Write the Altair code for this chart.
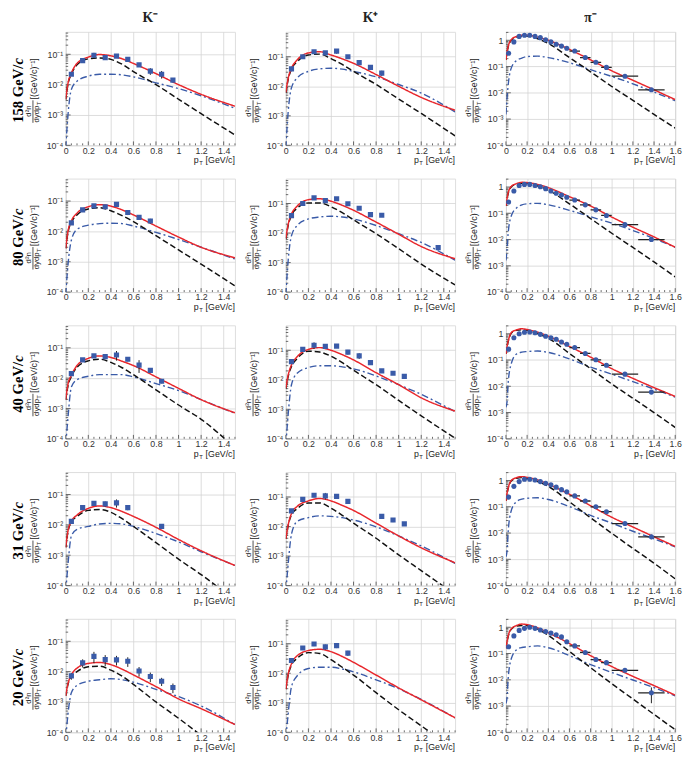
import altair as alt
import pandas as pd

# ---------------- data ----------------
KPT = [0.0, 0.02, 0.05, 0.1, 0.2, 0.3, 0.4, 0.5, 0.6, 0.8, 1.0, 1.2, 1.5]
PIPT = [0.0, 0.01, 0.02, 0.05, 0.1, 0.15, 0.2, 0.3, 0.4, 0.6, 0.8, 1.0, 1.2, 1.4, 1.6]
PI_DPT = [0.025, 0.075, 0.125, 0.175, 0.225, 0.275, 0.325, 0.375, 0.425, 0.475,
          0.525, 0.575, 0.65, 0.75, 0.85, 0.95, 1.125, 1.375]
PI_XERR = [0, 0, 0, 0, 0, 0, 0, 0, 0, 0, 0, 0, 0.05, 0.05, 0.05, 0.05, 0.125, 0.125]

ROW_LABELS = ["158", "80", "40", "31", "20"]
COL_TITLES = ["K\u207b", "K\u207a", "\u03c0\u207b"]

# ---- 158 GeV/c ----
KM158_RED = [3.3e-3, 1.1e-2, 2.4e-2, 5.0e-2, 8.1e-2, 9.8e-2, 8.9e-2, 7.1e-2, 5.0e-2, 2.3e-2, 1.0e-2, 4.8e-3, 1.95e-3]
KM158_BLK = [3.2e-3, 1.05e-2, 2.2e-2, 4.5e-2, 7.1e-2, 7.6e-2, 6.8e-2, 4.7e-2, 2.7e-2, 1.0e-2, 3.3e-3, 1.1e-3, 2.2e-4]
KM158_BLU = [8e-5, 1.0e-3, 6.9e-3, 1.3e-2, 1.9e-2, 2.2e-2, 2.2e-2, 2.1e-2, 1.8e-2, 1.15e-2, 7.4e-3, 4.3e-3, 1.66e-3]
KM158_DPT = [0.05, 0.15, 0.25, 0.35, 0.45, 0.55, 0.65, 0.75, 0.85, 0.95]
KM158_VAL = [2.2e-2, 6.2e-2, 9.3e-2, 7.8e-2, 8.7e-2, 6.8e-2, 4.5e-2, 2.8e-2, 2.2e-2, 1.4e-2]
KM158_ERR = [0.12, 0.1, 0.2, 0.12, 0.12, 0.12, 0.15, 0.25, 0.28, 0.15]

KP158_RED = [6.2e-3, 1.8e-2, 4.1e-2, 7.8e-2, 0.135, 0.148, 0.115, 8.5e-2, 6.0e-2, 2.5e-2, 1.0e-2, 4.2e-3, 1.55e-3]
KP158_BLK = [6.0e-3, 1.66e-2, 3.8e-2, 6.8e-2, 0.115, 0.123, 8.7e-2, 5.5e-2, 3.2e-2, 1.15e-2, 3.7e-3, 1.2e-3, 2.1e-4]
KP158_BLU = [8e-5, 1.26e-3, 8.9e-3, 1.9e-2, 3.2e-2, 3.9e-2, 4.1e-2, 3.8e-2, 3.2e-2, 2.1e-2, 1.15e-2, 5.9e-3, 1.35e-3]
KP158_DPT = [0.05, 0.15, 0.25, 0.35, 0.45, 0.55, 0.65, 0.75, 0.85]
KP158_VAL = [3.9e-2, 0.10, 0.148, 0.135, 0.155, 0.10, 6.3e-2, 4.4e-2, 2.8e-2]
KP158_ERR = [0.12, 0.12, 0.15, 0.12, 0.18, 0.1, 0.12, 0.18, 0.2]

PI158_RED = [0.18, 0.35, 0.56, 1.05, 1.41, 1.55, 1.55, 1.32, 1.0, 0.45, 0.18, 6.9e-2, 3.0e-2, 1.3e-2, 5.5e-3]
PI158_BLK = [0.18, 0.35, 0.54, 1.0, 1.32, 1.45, 1.45, 1.15, 0.76, 0.22, 6.3e-2, 1.74e-2, 5.2e-3, 1.5e-3, 4.5e-4]
PI158_BLU = [1.5e-3, 6.0e-3, 1.8e-2, 8.7e-2, 0.17, 0.21, 0.24, 0.25, 0.22, 0.14, 7.6e-2, 4.2e-2, 2.2e-2, 1.07e-2, 5.0e-3]
PI158_VAL = [0.32, 0.87, 1.41, 1.55, 1.55, 1.41, 1.26, 1.05, 0.87, 0.71, 0.60, 0.50, 0.39, 0.22, 0.145, 9.3e-2, 4.3e-2, 1.3e-2]
PI158_ERR = [0.05] * 16 + [0.1, 0.12]

# ---- 80 GeV/c ----
KM80_RED = [2.75e-3, 1.0e-2, 2.2e-2, 4.0e-2, 6.5e-2, 7.6e-2, 6.8e-2, 5.1e-2, 3.5e-2, 1.5e-2, 6.5e-3, 3.0e-3, 1.35e-3]
KM80_BLK = [2.75e-3, 9.3e-3, 2.0e-2, 3.5e-2, 5.5e-2, 6.0e-2, 4.8e-2, 3.3e-2, 2.1e-2, 7.2e-3, 2.45e-3, 8.3e-4, 1.6e-4]
KM80_BLU = [8e-5, 7.9e-4, 5.1e-3, 1.17e-2, 1.6e-2, 1.8e-2, 1.86e-2, 1.8e-2, 1.5e-2, 9.3e-3, 5.4e-3, 3.0e-3, 1.23e-3]
KM80_DPT = [0.05, 0.15, 0.25, 0.35, 0.45, 0.55, 0.65, 0.75]
KM80_VAL = [1.9e-2, 5.1e-2, 6.9e-2, 6.5e-2, 7.8e-2, 4.2e-2, 2.9e-2, 2.2e-2]
KM80_ERR = [0.12, 0.12, 0.12, 0.12, 0.18, 0.18, 0.15, 0.18]

KP80_RED = [6.6e-3, 1.9e-2, 4.4e-2, 8.1e-2, 0.135, 0.145, 0.12, 8.7e-2, 5.9e-2, 2.35e-2, 9.1e-3, 3.5e-3, 1.35e-3]
KP80_BLK = [6.3e-3, 1.74e-2, 4.0e-2, 6.9e-2, 0.105, 0.105, 7.8e-2, 4.9e-2, 2.8e-2, 9.5e-3, 2.95e-3, 8.9e-4, 1.74e-4]
KP80_BLU = [8e-5, 1.1e-3, 8.1e-3, 1.8e-2, 3.0e-2, 3.5e-2, 3.7e-2, 3.5e-2, 3.0e-2, 1.8e-2, 9.5e-3, 4.8e-3, 1.2e-3]
KP80_DPT = [0.05, 0.15, 0.25, 0.35, 0.45, 0.55, 0.65, 0.75, 0.85, 1.35]
KP80_VAL = [3.9e-2, 0.10, 0.155, 0.126, 0.145, 9.8e-2, 6.9e-2, 4.2e-2, 4.0e-2, 3.2e-3]
KP80_ERR = [0.1, 0.1, 0.1, 0.1, 0.12, 0.12, 0.12, 0.1, 0.1, 0.15]

PI80_RED = [0.19, 0.36, 0.58, 1.05, 1.35, 1.51, 1.48, 1.26, 0.95, 0.43, 0.19, 7.2e-2, 2.95e-2, 1.26e-2, 5.1e-3]
PI80_BLK = [0.19, 0.35, 0.55, 1.0, 1.29, 1.38, 1.38, 1.1, 0.76, 0.23, 6.3e-2, 1.74e-2, 5.0e-3, 1.4e-3, 3.8e-4]
PI80_BLU = [1.6e-3, 4.0e-3, 1.6e-2, 7.9e-2, 0.16, 0.21, 0.23, 0.24, 0.21, 0.13, 7.4e-2, 4.2e-2, 2.2e-2, 1.1e-2, 5.0e-3]
PI80_VAL = [0.27, 0.71, 1.15, 1.26, 1.26, 1.15, 1.02, 0.87, 0.71, 0.58, 0.50, 0.41, 0.32, 0.21, 0.135, 8.3e-2, 3.7e-2, 1.0e-2]
PI80_ERR = [0.05] * 16 + [0.1, 0.12]

# ---- 40 GeV/c ----
KM40_RED = [1.95e-3, 6.3e-3, 1.23e-2, 2.6e-2, 4.5e-2, 5.4e-2, 4.8e-2, 3.6e-2, 2.6e-2, 1.1e-2, 4.6e-3, 1.95e-3, 7.2e-4]
KM40_BLK = [1.95e-3, 5.6e-3, 1.12e-2, 2.3e-2, 3.7e-2, 4.2e-2, 3.3e-2, 2.2e-2, 1.3e-2, 4.1e-3, 1.3e-3, 4.4e-4, 5e-5]
KM40_BLU = [6e-5, 5.0e-4, 5.1e-3, 8.9e-3, 1.15e-2, 1.3e-2, 1.3e-2, 1.3e-2, 1.1e-2, 6.6e-3, 3.9e-3, 1.95e-3, 6.9e-4]
KM40_DPT = [0.05, 0.15, 0.25, 0.35, 0.45, 0.55, 0.65, 0.75, 0.85]
KM40_VAL = [1.4e-2, 4.0e-2, 5.4e-2, 5.1e-2, 5.8e-2, 4.2e-2, 2.7e-2, 1.8e-2, 7.9e-3]
KM40_ERR = [0.15, 0.1, 0.12, 0.15, 0.35, 0.15, 0.45, 0.12, 0.15]

KP40_RED = [5.2e-3, 1.4e-2, 3.2e-2, 6.0e-2, 0.107, 0.123, 0.10, 7.1e-2, 4.7e-2, 1.74e-2, 6.8e-3, 2.45e-3, 8.7e-4]
KP40_BLK = [5.0e-3, 1.26e-2, 2.8e-2, 5.2e-2, 9.3e-2, 8.7e-2, 6.3e-2, 3.8e-2, 2.1e-2, 6.8e-3, 2.0e-3, 6.0e-4, 1.05e-4]
KP40_BLU = [6e-5, 6.3e-4, 6.8e-3, 1.66e-2, 2.6e-2, 3.0e-2, 3.0e-2, 2.75e-2, 2.35e-2, 1.35e-2, 6.8e-3, 3.2e-3, 8.3e-4]
KP40_DPT = [0.05, 0.15, 0.25, 0.35, 0.45, 0.55, 0.65, 0.75, 0.85, 0.95, 1.05]
KP40_VAL = [4.1e-2, 0.107, 0.148, 0.135, 0.138, 8.7e-2, 6.5e-2, 3.8e-2, 2.0e-2, 1.66e-2, 1.3e-2]
KP40_ERR = [0.12, 0.1, 0.25, 0.15, 0.12, 0.18, 0.22, 0.12, 0.1, 0.12, 0.12]

PI40_RED = [0.17, 0.32, 0.50, 1.1, 1.41, 1.55, 1.45, 1.15, 0.81, 0.33, 0.129, 4.7e-2, 2.0e-2, 8.9e-3, 4.1e-3]
PI40_BLK = [0.17, 0.32, 0.49, 1.05, 1.35, 1.41, 1.35, 1.02, 0.68, 0.178, 4.7e-2, 1.23e-2, 3.5e-3, 1.0e-3, 2.7e-4]
PI40_BLU = [1.6e-3, 2.5e-3, 1.26e-2, 7.2e-2, 0.17, 0.2, 0.21, 0.22, 0.195, 0.11, 5.4e-2, 2.9e-2, 1.5e-2, 7.8e-3, 3.9e-3]
PI40_VAL = [0.26, 0.71, 1.0, 1.15, 1.17, 1.1, 0.95, 0.81, 0.71, 0.62, 0.49, 0.40, 0.30, 0.178, 0.102, 6.3e-2, 2.9e-2, 6.0e-3]
PI40_ERR = [0.05] * 16 + [0.1, 0.15]

# ---- 31 GeV/c ----
KM31_RED = [1.8e-3, 6.3e-3, 1.3e-2, 2.1e-2, 3.5e-2, 4.2e-2, 3.7e-2, 2.75e-2, 1.9e-2, 8.3e-3, 3.3e-3, 1.4e-3, 4.6e-4]
KM31_BLK = [1.8e-3, 6.0e-3, 1.26e-2, 1.9e-2, 3.0e-2, 3.2e-2, 2.6e-2, 1.6e-2, 8.9e-3, 2.6e-3, 7.4e-4, 2.3e-4, 3.2e-5]
KM31_BLU = [6e-5, 5.0e-4, 4.3e-3, 7.1e-3, 8.9e-3, 1.07e-2, 1.12e-2, 1.07e-2, 8.9e-3, 5.2e-3, 2.75e-3, 1.3e-3, 4.6e-4]
KM31_DPT = [0.05, 0.15, 0.25, 0.35, 0.45, 0.55, 0.85]
KM31_VAL = [1.3e-2, 3.7e-2, 5.1e-2, 4.9e-2, 5.3e-2, 3.7e-2, 8.9e-3]
KM31_ERR = [0.12, 0.15, 0.15, 0.2, 0.3, 0.18, 0.15]

KP31_RED = [3.8e-3, 1.1e-2, 2.75e-2, 4.8e-2, 7.4e-2, 8.9e-2, 7.4e-2, 5.2e-2, 3.5e-2, 1.3e-2, 4.8e-3, 1.9e-3, 5.9e-4]
KP31_BLK = [3.8e-3, 1.05e-2, 2.5e-2, 4.0e-2, 6.3e-2, 6.3e-2, 4.2e-2, 2.4e-2, 1.3e-2, 4.0e-3, 1.1e-3, 3.2e-4, 5e-5]
KP31_BLU = [6e-5, 5.0e-4, 5.5e-3, 1.48e-2, 2.0e-2, 2.3e-2, 2.2e-2, 2.0e-2, 1.66e-2, 9.8e-3, 4.8e-3, 2.2e-3, 5.6e-4]
KP31_DPT = [0.05, 0.15, 0.25, 0.35, 0.45, 0.55, 0.85, 0.95, 1.05]
KP31_VAL = [3.4e-2, 8.3e-2, 0.115, 0.11, 0.105, 7.1e-2, 2.2e-2, 1.66e-2, 1.23e-2]
KP31_ERR = [0.12, 0.15, 0.15, 0.25, 0.18, 0.12, 0.15, 0.15, 0.15]

PI31_RED = [0.166, 0.32, 0.5, 1.0, 1.29, 1.41, 1.32, 1.05, 0.72, 0.30, 0.11, 4.0e-2, 1.7e-2, 7.2e-3, 3.1e-3]
PI31_BLK = [0.166, 0.32, 0.49, 0.95, 1.23, 1.29, 1.2, 0.91, 0.60, 0.155, 3.8e-2, 9.8e-3, 2.6e-3, 7.1e-4, 1.8e-4]
PI31_BLU = [1.26e-3, 2.0e-3, 1.0e-2, 7.1e-2, 0.158, 0.195, 0.21, 0.22, 0.19, 0.102, 4.7e-2, 2.4e-2, 1.17e-2, 6.0e-3, 3.0e-3]
PI31_VAL = [0.234, 0.60, 0.91, 1.12, 1.12, 1.05, 0.91, 0.79, 0.69, 0.56, 0.45, 0.37, 0.26, 0.166, 0.10, 6.5e-2, 2.3e-2, 7.2e-3]
PI31_ERR = [0.05] * 16 + [0.12, 0.2]

# ---- 20 GeV/c ----
KM20_RED = [1.6e-3, 4.0e-3, 7.8e-3, 1.3e-2, 1.86e-2, 2.0e-2, 1.7e-2, 1.2e-2, 7.8e-3, 3.2e-3, 1.26e-3, 6.0e-4, 1.8e-4]
KM20_BLK = [1.6e-3, 3.8e-3, 7.1e-3, 1.0e-2, 1.45e-2, 1.5e-2, 1.12e-2, 7.1e-3, 3.8e-3, 1.0e-3, 2.9e-4, 7.9e-5, 1e-5]
KM20_BLU = [6e-5, 4.0e-4, 2.0e-3, 3.5e-3, 4.8e-3, 5.4e-3, 5.8e-3, 5.4e-3, 4.5e-3, 2.6e-3, 1.5e-3, 7.4e-4, 1.8e-4]
KM20_DPT = [0.05, 0.15, 0.25, 0.35, 0.45, 0.55, 0.65, 0.75, 0.85, 0.95]
KM20_VAL = [7.2e-3, 1.95e-2, 3.2e-2, 2.5e-2, 2.45e-2, 2.2e-2, 1.05e-2, 6.9e-3, 4.8e-3, 3.0e-3]
KM20_ERR = [0.25, 0.3, 0.4, 0.4, 0.35, 0.35, 0.35, 0.35, 0.3, 0.35]

KP20_RED = [2.9e-3, 8.9e-3, 2.1e-2, 3.9e-2, 5.9e-2, 6.5e-2, 5.4e-2, 3.7e-2, 2.35e-2, 8.7e-3, 3.2e-3, 1.26e-3, 3.1e-4]
KP20_BLK = [2.9e-3, 8.3e-3, 1.9e-2, 3.2e-2, 5.0e-2, 4.7e-2, 2.9e-2, 1.6e-2, 8.7e-3, 2.2e-3, 5.8e-4, 1.66e-4, 2.5e-5]
KP20_BLU = [6e-5, 4.0e-4, 3.5e-3, 8.1e-3, 1.45e-2, 1.6e-2, 1.6e-2, 1.4e-2, 1.12e-2, 6.0e-3, 3.0e-3, 1.3e-3, 3.1e-4]
KP20_DPT = [0.05, 0.15, 0.25, 0.35, 0.45, 0.55]
KP20_VAL = [2.7e-2, 7.2e-2, 9.8e-2, 7.8e-2, 8.7e-2, 4.8e-2]
KP20_ERR = [0.15, 0.12, 0.15, 0.2, 0.18, 0.2]

PI20_RED = [0.158, 0.28, 0.45, 0.87, 1.17, 1.32, 1.26, 0.95, 0.62, 0.24, 8.3e-2, 3.2e-2, 1.35e-2, 6.0e-3, 2.6e-3]
PI20_BLK = [0.158, 0.275, 0.43, 0.83, 1.12, 1.17, 1.15, 0.85, 0.49, 0.12, 2.9e-2, 7.1e-3, 1.86e-3, 4.8e-4, 1.26e-4]
PI20_BLU = [1.26e-3, 2.0e-3, 1.0e-2, 6.3e-2, 0.138, 0.17, 0.18, 0.195, 0.166, 8.3e-2, 3.8e-2, 1.9e-2, 9.8e-3, 5.0e-3, 2.45e-3]
PI20_VAL = [0.18, 0.47, 0.76, 0.91, 1.0, 0.91, 0.79, 0.69, 0.60, 0.52, 0.43, 0.28, 0.195, 0.11, 5.9e-2, 4.5e-2, 2.3e-2, 3.2e-3]
PI20_ERR = [0.06] * 16 + [0.15, 0.6]

PANELS = [
    [(KM158_RED, KM158_BLK, KM158_BLU, KM158_DPT, KM158_VAL, KM158_ERR),
     (KP158_RED, KP158_BLK, KP158_BLU, KP158_DPT, KP158_VAL, KP158_ERR),
     (PI158_RED, PI158_BLK, PI158_BLU, PI_DPT, PI158_VAL, PI158_ERR)],
    [(KM80_RED, KM80_BLK, KM80_BLU, KM80_DPT, KM80_VAL, KM80_ERR),
     (KP80_RED, KP80_BLK, KP80_BLU, KP80_DPT, KP80_VAL, KP80_ERR),
     (PI80_RED, PI80_BLK, PI80_BLU, PI_DPT, PI80_VAL, PI80_ERR)],
    [(KM40_RED, KM40_BLK, KM40_BLU, KM40_DPT, KM40_VAL, KM40_ERR),
     (KP40_RED, KP40_BLK, KP40_BLU, KP40_DPT, KP40_VAL, KP40_ERR),
     (PI40_RED, PI40_BLK, PI40_BLU, PI_DPT, PI40_VAL, PI40_ERR)],
    [(KM31_RED, KM31_BLK, KM31_BLU, KM31_DPT, KM31_VAL, KM31_ERR),
     (KP31_RED, KP31_BLK, KP31_BLU, KP31_DPT, KP31_VAL, KP31_ERR),
     (PI31_RED, PI31_BLK, PI31_BLU, PI_DPT, PI31_VAL, PI31_ERR)],
    [(KM20_RED, KM20_BLK, KM20_BLU, KM20_DPT, KM20_VAL, KM20_ERR),
     (KP20_RED, KP20_BLK, KP20_BLU, KP20_DPT, KP20_VAL, KP20_ERR),
     (PI20_RED, PI20_BLK, PI20_BLU, PI_DPT, PI20_VAL, PI20_ERR)],
]

# axis tick positions (ROOT-style inward ticks)
X_MAJOR = [0, 0.2, 0.4, 0.6, 0.8, 1.0, 1.2, 1.4, 1.6]
X_MINOR = [round(i * 0.05, 2) for i in range(33) if i % 4 != 0]
Y_MAJOR = [1e-4, 1e-3, 1e-2, 1e-1, 1.0]
Y_MINOR = [m * 10.0 ** e for e in range(-4, 1) for m in range(2, 10)]

# ---------------- styling ----------------
W, H = 173, 116
SANS = "Liberation Sans"
SERIF = "Liberation Serif"
RED = "#e8262b"
BLUE = "#3a5ba8"
YMAX = [0.55, 0.7, 2.1]
LABEL_EXPR = ("datum.value > 0.5 ? '1' : datum.value > 0.05 ? '10\u207b\u00b9' : "
              "datum.value > 0.005 ? '10\u207b\u00b2' : datum.value > 0.0005 ? '10\u207b\u00b3' : '10\u207b\u2074'")

DUMMY = pd.DataFrame({"d": [0]})


def txt(text, x, y, size=8, font=SANS, angle=0, align="center", weight="normal",
        style="normal", baseline="middle", color="#222"):
    return alt.Chart(DUMMY).mark_text(
        text=text, font=font, fontSize=size, angle=angle, align=align,
        fontWeight=weight, fontStyle=style, baseline=baseline, color=color
    ).encode(x=alt.value(x), y=alt.value(y))


def panel(row, col):
    red, blk, blu, dpt, dval, derr = PANELS[row][col]
    is_pi = col == 2
    pts = PIPT if is_pi else KPT
    xmax = 1.6 if is_pi else 1.5
    xticks = [0, 0.2, 0.4, 0.6, 0.8, 1.0, 1.2, 1.4] + ([1.6] if is_pi else [])
    yticks = [1e-4, 1e-3, 1e-2, 1e-1] + ([1.0] if is_pi else [])

    xs = alt.Scale(domain=[0, xmax], nice=False, zero=False)
    ys = alt.Scale(type="log", domain=[1e-4, YMAX[col]], nice=False)
    xa = alt.Axis(values=xticks, format="~g", title=None, grid=True, gridColor="#d4d4d4",
                  gridWidth=0.8, domain=False, ticks=False, labelFont=SANS, labelFontSize=9,
                  labelColor="#333", labelPadding=1, labelFlush=False)
    ya = alt.Axis(values=yticks, labelExpr=LABEL_EXPR, title=None, grid=True,
                  gridColor="#d4d4d4", gridWidth=0.8, domain=False, ticks=False,
                  labelFont=SANS, labelFontSize=9, labelColor="#333", labelPadding=3)
    X = lambda f: alt.X(f, scale=xs, axis=xa)
    Y = lambda f: alt.Y(f, scale=ys, axis=ya)

    def curve(vals, color, dash, width):
        df = pd.DataFrame({"pt": pts, "v": vals})
        return alt.Chart(df).mark_line(clip=True, color=color, strokeDash=dash,
                                       strokeWidth=width, interpolate="monotone").encode(
            x=X("pt:Q"), y=Y("v:Q"))

    # inward ticks
    xmaj = pd.DataFrame({"t": [t for t in X_MAJOR if t <= xmax]})
    xmin = pd.DataFrame({"t": [t for t in X_MINOR if t <= xmax]})
    ymaj = pd.DataFrame({"t": [t for t in Y_MAJOR if t <= YMAX[col]]})
    ymin = pd.DataFrame({"t": [t for t in Y_MINOR if t <= YMAX[col]]})
    tick_style = dict(color="#444", strokeWidth=0.8)
    layers = [
        alt.Chart(xmaj).mark_rule(**tick_style).encode(x=X("t:Q"), y=alt.value(H), y2=alt.value(H - 4)),
        alt.Chart(xmin).mark_rule(**tick_style).encode(x=X("t:Q"), y=alt.value(H), y2=alt.value(H - 2)),
        alt.Chart(ymaj).mark_rule(**tick_style).encode(y=Y("t:Q"), x=alt.value(0), x2=alt.value(5)),
        alt.Chart(ymin).mark_rule(**tick_style).encode(y=Y("t:Q"), x=alt.value(0), x2=alt.value(2.5)),
        curve(blu, BLUE, [7, 3, 2, 3], 1.4),
        curve(blk, "#111111", [6, 3], 1.5),
        curve(red, RED, [1, 0], 1.5),
    ]

    ddf = pd.DataFrame({"pt": dpt, "v": dval, "e": derr})
    if is_pi:
        ddf["xe"] = PI_XERR
    ddf["lo"] = ddf["v"] * (1 - ddf["e"])
    ddf["hi"] = ddf["v"] * (1 + ddf["e"])
    base = alt.Chart(ddf)
    layers.append(base.mark_rule(color="#222", strokeWidth=1, clip=True).encode(
        x=X("pt:Q"), y=Y("lo:Q"), y2="hi:Q"))
    if is_pi:
        bars = base.transform_filter("datum.xe > 0").transform_calculate(
            x0="datum.pt - datum.xe", x1="datum.pt + datum.xe")
        layers.append(bars.mark_rule(color="#222", strokeWidth=1.3, clip=True).encode(
            x=X("x0:Q"), x2="x1:Q", y=Y("v:Q")))
        layers.append(base.mark_point(shape="circle", filled=True, size=27, color=BLUE,
                                      opacity=1, clip=True).encode(x=X("pt:Q"), y=Y("v:Q")))
    else:
        layers.append(base.mark_point(shape="square", filled=True, size=28, color=BLUE,
                                      opacity=1, clip=True).encode(x=X("pt:Q"), y=Y("v:Q")))

    # y-axis title: d^2n / dydp_T [(GeV/c)^-1]
    layers += [
        txt("d\u00b2n", -37.5, 81, size=8, angle=270),
        alt.Chart(DUMMY).mark_rule(color="#222", strokeWidth=0.8).encode(
            x=alt.value(-33.5), y=alt.value(70), y2=alt.value(93)),
        txt("dydp", -29.5, 84, size=8, angle=270),
        txt("T", -27, 75, size=6, angle=270, align="left"),
        txt("[(GeV/c)\u207b\u00b9]", -32.5, 48, size=9, angle=270),
        # x-axis title: p_T [GeV/c]
        txt("[GeV/c]", W, H + 15.5, size=9, align="right"),
        txt("p", W - 37, H + 15.5, size=9, align="right"),
        txt("T", W - 36.5, H + 18.5, size=6, align="left"),
    ]
    if row == 0:
        layers.append(txt(COL_TITLES[col], W / 2, -14, size=14, font=SERIF, weight="bold"))
    if col == 0:
        lab = ROW_LABELS[row]
        junction = 33.5 if len(lab) == 3 else 37.3
        layers.append(txt(lab + " GeV/", -49, junction, size=15, font=SERIF, angle=270,
                          align="right", weight="bold", color="#000"))
        layers.append(txt("c", -49, junction, size=15, font=SERIF, angle=270,
                          align="left", weight="bold", style="italic", color="#000"))

    return alt.layer(*layers).properties(width=W, height=H)


rows = [alt.hconcat(*[panel(r, c) for c in range(3)], spacing=9) for r in range(5)]
chart = alt.vconcat(*rows, spacing=11).properties(
    padding={"left": 2, "top": -6, "right": 2, "bottom": 0}
).configure_view(stroke="#444", strokeWidth=1).configure(background="white")

chart.save("out.html", embed_options={"renderer": "svg", "actions": False})
